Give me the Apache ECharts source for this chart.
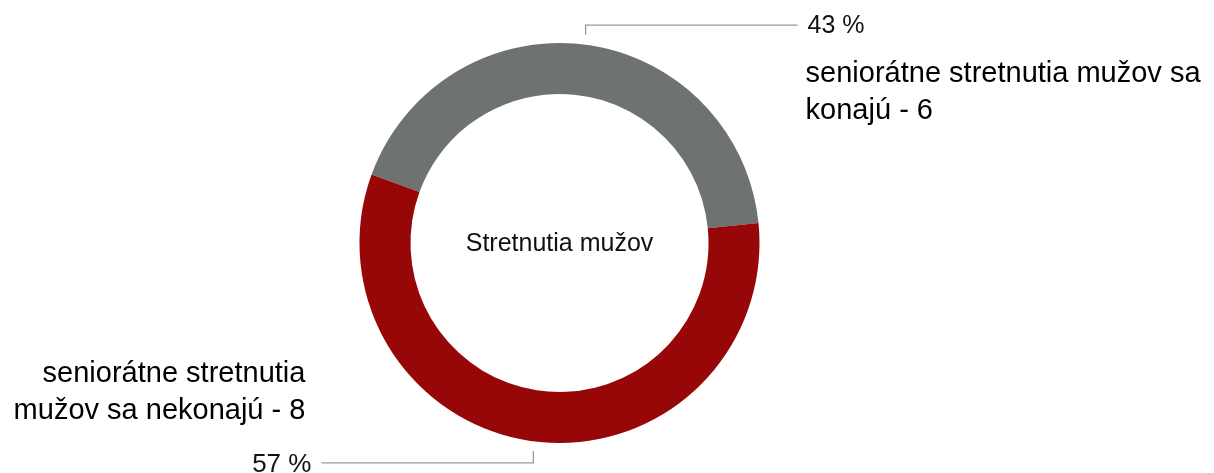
<!DOCTYPE html>
<html>
<head>
<meta charset="utf-8">
<script src="https://cdn.jsdelivr.net/npm/echarts@6/dist/echarts.min.js"></script>
<style>
html,body{margin:0;padding:0;background:#fff;}
#c{width:1214px;height:473px;}
</style>
</head>
<body>
<div id="c"></div>
<script>
const categories = ['seniorátne stretnutia mužov sa konajú', 'seniorátne stretnutia mužov sa nekonajú'];
const nameLabels = ['seniorátne stretnutia mužov sa\nkonajú', 'seniorátne stretnutia\nmužov sa nekonajú'];
const values = [6, 8];
const colors = ['#6e7370', '#980707'];
const centerTitle = 'Stretnutia mužov';

const CX = 559.5, CY = 243;
const FONT = '"Liberation Sans", Arial, Helvetica, sans-serif';

const chart = echarts.init(document.getElementById('c'), null, {renderer: 'canvas'});
const total = values.reduce((a, b) => a + b, 0);

const data = categories.map((c, i) => ({
  name: c,
  value: values[i],
  itemStyle: {color: colors[i]},
  label: {
    formatter: function (p) {
      const pct = Math.round(p.value / total * 100) + ' %';
      const tag = i === 0 ? 'n' : 'm';
      const nm = nameLabels[i].split('\n').map(s => '{' + tag + '|' + s + '}').join('\n');
      const last = nm.replace(/\}$/, ' - ' + p.value + '}');
      return i === 0 ? '{p|' + pct + '}\n' + last : last + '\n{q|' + pct + '}';
    },
    align: i === 0 ? 'left' : 'right'
  }
}));

chart.setOption({
  backgroundColor: '#ffffff',
  animation: false,
  graphic: [{
    type: 'text',
    x: CX, y: CY + 1,
    style: {
      text: centerTitle,
      fill: '#111',
      font: '25px ' + FONT,
      textAlign: 'center',
      textVerticalAlign: 'middle'
    }
  }],
  series: [{
    type: 'pie',
    center: [CX, CY],
    radius: [149, 200],
    startAngle: 160,
    clockwise: true,
    silent: true,
    avoidLabelOverlap: false,
    data: data,
    label: {
      show: true,
      position: 'outside',
      color: '#000',
      fontFamily: FONT,
      rich: {
        p: {fontSize: 25, lineHeight: 58, color: '#111', fontFamily: FONT},
        q: {fontSize: 26, lineHeight: 70, color: '#111', fontFamily: FONT},
        n: {fontSize: 29, lineHeight: 37, color: '#000', fontFamily: FONT, padding: [0, 0, 0, -2]},
        m: {fontSize: 29, lineHeight: 37, color: '#000', fontFamily: FONT, padding: [0, 6, 0, 0]}
      }
    },
    labelLine: {
      show: true,
      length: 20,
      length2: 200,
      lineStyle: {color: '#999', width: 1.3}
    },
    labelLayout: function (params) {
      const pts = params.labelLinePoints;
      if (!pts) return {};
      const p0 = pts[0], p1 = pts[1];
      let dx = p1[0] - p0[0], dy = p1[1] - p0[1];
      const len = Math.sqrt(dx * dx + dy * dy) || 1;
      dx /= len; dy /= len;
      const sx = p0[0] + dx * 10, sy = p0[1] + dy * 10;
      const cy = p0[1] + dy * 20 + (params.dataIndex === 0 ? 0.5 : 1.5);
      const sign = params.dataIndex === 0 ? 1 : -1;
      const ex = sx + sign * 212;
      if (params.dataIndex === 0) {
        return {
          x: ex + 10, y: cy - 28,
          align: 'left', verticalAlign: 'top',
          labelLinePoints: [[sx, sy], [sx, cy], [ex, cy]]
        };
      } else {
        return {
          x: ex - 10, y: cy + 37,
          align: 'right', verticalAlign: 'bottom',
          labelLinePoints: [[sx, sy], [sx, cy], [ex, cy]]
        };
      }
    }
  }]
});
</script>
</body>
</html>
